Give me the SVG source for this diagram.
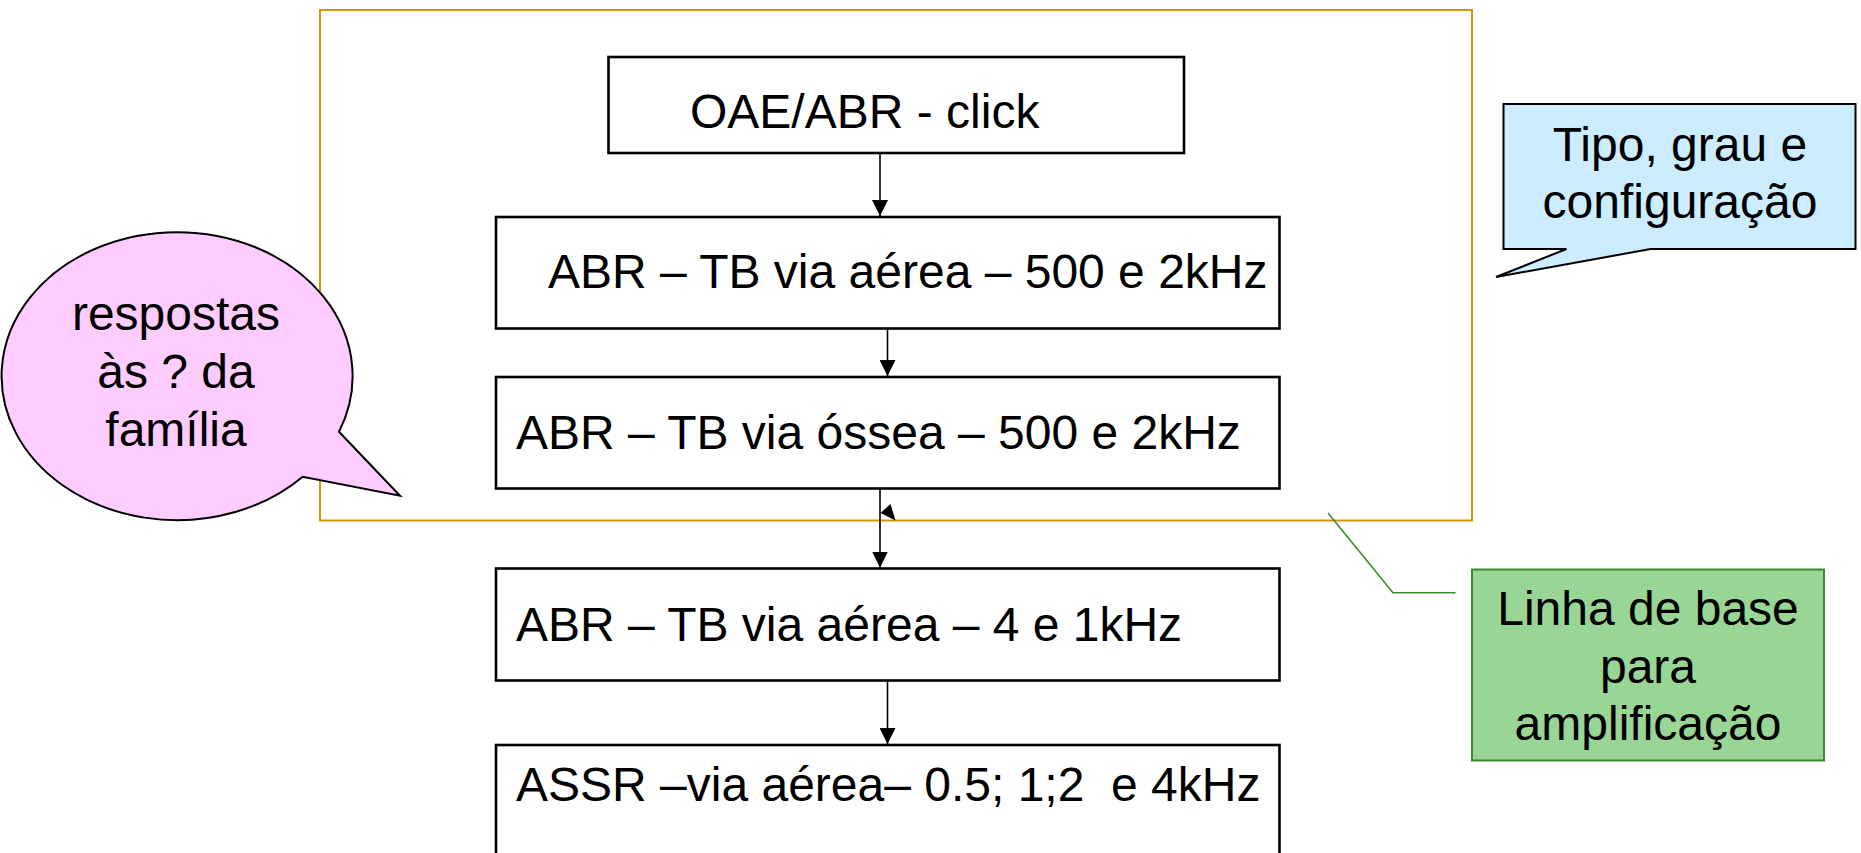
<svg xmlns="http://www.w3.org/2000/svg" width="1861" height="853" viewBox="0 0 1861 853">
<defs>
<style>
.t{font-family:"Liberation Sans",Arial,sans-serif;font-size:48px;fill:#000}
.c{text-anchor:middle}
.pre{white-space:pre}
.box{fill:#fff;stroke:#000;stroke-width:2.6}
.conn{stroke:#000;stroke-width:1.6;fill:none}
</style>
<marker id="ah" viewBox="0 0 16 16" refX="16" refY="8" markerWidth="16" markerHeight="16" markerUnits="userSpaceOnUse" orient="auto">
<path d="M0,0 L16,8 L0,16 Z" fill="#000"/>
</marker>
</defs>
<rect width="1861" height="853" fill="#fff"/>
<g id="frame">
<rect x="320" y="10" width="1152" height="510.5" fill="none" stroke="#CC9900" stroke-width="2"/>
</g>
<g id="n-oae">
<rect class="box" x="608.5" y="57" width="575.5" height="96"/>
<text class="t" x="690" y="128">OAE/ABR - click</text>
</g>
<g id="n-abr-aerea-500">
<rect class="box" x="496" y="217" width="783.5" height="111.5"/>
<text class="t" x="548" y="288">ABR – TB via aérea – 500 e 2kHz</text>
</g>
<g id="n-abr-ossea">
<rect class="box" x="496" y="377" width="783.5" height="111.5"/>
<text class="t" x="516" y="449">ABR – TB via óssea – 500 e 2kHz</text>
</g>
<g id="n-abr-aerea-4">
<rect class="box" x="496" y="568.5" width="783.5" height="112"/>
<text class="t" x="516" y="641">ABR – TB via aérea – 4 e 1kHz</text>
</g>
<g id="n-assr">
<rect class="box" x="496" y="745" width="783.5" height="130"/>
<text class="t pre" x="516" y="801" xml:space="preserve">ASSR –via aérea– 0.5; 1;2  e 4kHz</text>
</g>
<g id="connectors">
<line class="conn" x1="880" y1="153" x2="880" y2="216" marker-end="url(#ah)"/>
<line class="conn" x1="887.5" y1="328.5" x2="887.5" y2="376" marker-end="url(#ah)"/>
<line class="conn" x1="880" y1="488.5" x2="880" y2="567.5" marker-end="url(#ah)"/>
<polygon points="890.5,504 895.5,520.5 880.5,513" fill="#000"/>
<line class="conn" x1="887.5" y1="680.5" x2="887.5" y2="744" marker-end="url(#ah)"/>
<polyline points="1328,513 1393,592.7 1455.6,592.7" fill="none" stroke="#3F8A2F" stroke-width="1.6"/>
</g>
<g id="n-familia">
<path d="M339,431.7 A175.5,144 0 1 0 302.7,476.7 L400,495.7 Z" fill="#FFCCFF" stroke="#000" stroke-width="2"/>
<text class="t c" x="176" y="330">respostas</text>
<text class="t c" x="176" y="388">às ? da</text>
<text class="t c" x="176" y="446">família</text>
</g>
<g id="n-tipo">
<path d="M1503.5,104 H1855.5 V249 H1650.6 L1496,277 L1566.5,249 H1503.5 Z" fill="#CCECFF" stroke="#000" stroke-width="2"/>
<text class="t c" x="1680" y="161">Tipo, grau e</text>
<text class="t c" x="1680" y="218">configuração</text>
</g>
<g id="n-linha">
<rect x="1472" y="569.5" width="352" height="191" fill="#99D594" stroke="#3F8A2F" stroke-width="2"/>
<text class="t c" x="1648" y="625">Linha de base</text>
<text class="t c" x="1648" y="683">para</text>
<text class="t c" x="1648" y="740">amplificação</text>
</g>
</svg>
